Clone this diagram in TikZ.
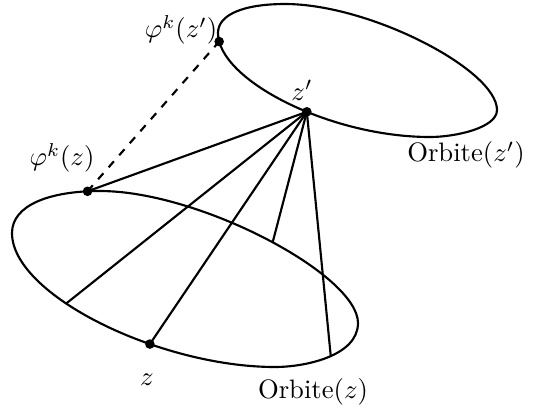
\documentclass[tikz,border=0pt]{standalone}
\usepackage{amsmath,amssymb}
\usepackage{tikz}
\usetikzlibrary{positioning, calc}
\tikzset{
  orbit/.style={thick, black, line join=round},
  ray/.style={thick, black},
  iterate/.style={thick, dashed, black},
  pt/.style={circle, fill=black, inner sep=0pt, minimum size=3.6pt},
  lbl/.style={font=\normalsize, inner sep=1pt}
}

\begin{document}
\begin{tikzpicture}[x=0.375pt, y=-0.375pt]
  \useasboundingbox (0,0) rectangle (538,413);

  % Orbite(z')
  \draw[orbit] (218,33) .. controls (218,14) and (245,4) .. (285,4)
    .. controls (370,4) and (497,70) .. (497,110)
    .. controls (497,128) and (455,137) .. (430,137)
    .. controls (330,137) and (218,80) .. (218,33)
    coordinate[pos=0.42] (zp) coordinate[pos=0.94] (fkzp) -- cycle;

  % Orbite(z)
  \draw[orbit] (12,233) .. controls (12,205) and (50,191) .. (100,191)
    coordinate[pos=0.915] (fkz)
    .. controls (200,191) and (358,275) .. (358,323)
    coordinate[pos=0.52] (qb)
    .. controls (358,356) and (305,367) .. (275,367)
    coordinate[pos=0.47] (qc)
    .. controls (160,367) and (12,295) .. (12,233)
    coordinate[pos=0.35] (z) coordinate[pos=0.62] (qa) -- cycle;

  % Rays from z'
  \foreach \q in {fkz, qa, z, qb, qc} {
    \draw[ray] (zp) -- (\q);
  }
  \draw[iterate] (fkz) -- (fkzp);

  % Dots
  \foreach \q in {zp, fkzp, fkz, z} {
    \node[pt] at (\q) {};
  }

  % Labels
  \node[lbl] (lfkzp) at (181,30) {$\varphi^k(z')$};
  \node[lbl] (lzp) at (302,90) {$z'$};
  \node[lbl] (lfkz) at (62,158) {$\varphi^k(z)$};
  \node[lbl] (lorbzp) at (466,155) {Orbite$(z')$};
  \node[lbl] (lz) at (147,380) {$z$};
  \node[lbl] (lorbz) at (313,392) {Orbite$(z)$};
\end{tikzpicture}
\end{document}
